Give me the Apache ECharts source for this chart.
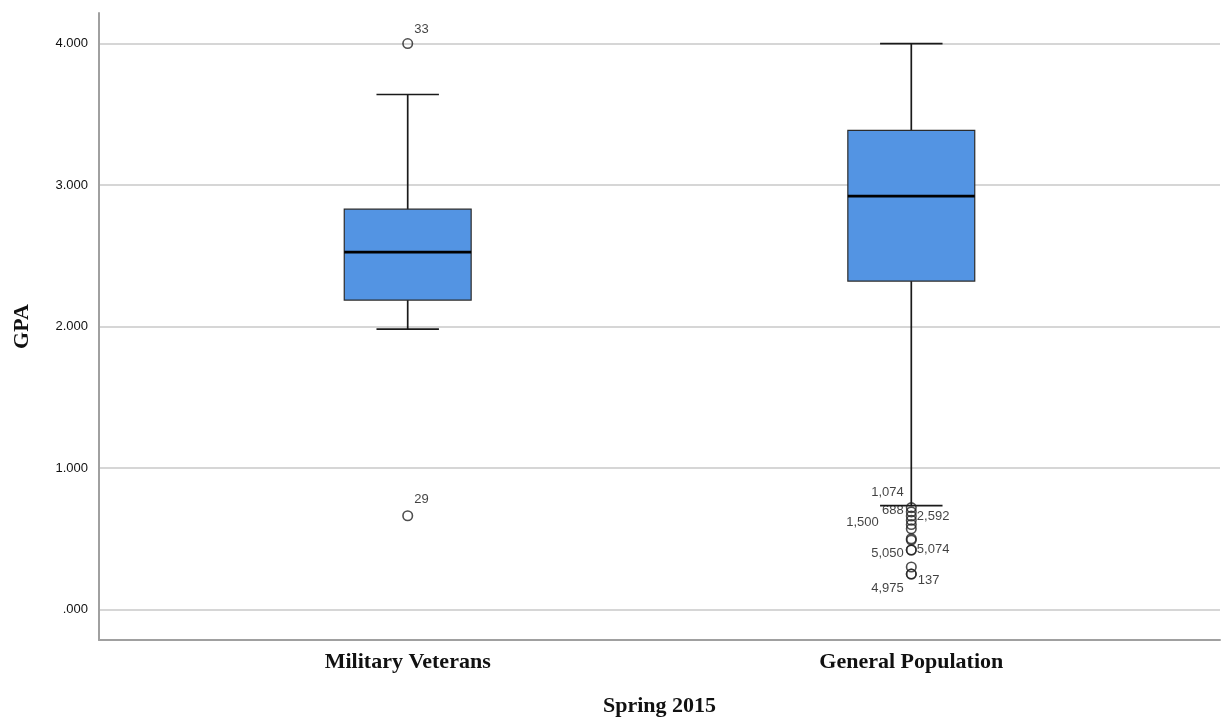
<!DOCTYPE html>
<html>
<head>
<meta charset="utf-8">
<script src="https://cdn.jsdelivr.net/npm/echarts@6/dist/echarts.min.js"></script>
<style>
html,body{margin:0;padding:0;background:#fff;}
#chart{width:1222px;height:722px;}
</style>
</head>
<body>
<div id="chart"></div>
<script>
// ---- Data ----
const categories = ['Military Veterans', 'General Population'];
// [lower whisker, Q1, median, Q3, upper whisker]
const militaryBox = [1.982, 2.187, 2.526, 2.829, 3.640];
const generalBox = [0.734, 2.321, 2.921, 3.386, 4.000];
const militaryOutliers = [4.000, 0.662];
const militaryOutlierIds = ['33', '29'];
const generalOutliers = [0.72, 0.69, 0.66, 0.63, 0.60, 0.57, 0.50, 0.49, 0.42, 0.42, 0.30, 0.25, 0.25];
const generalOutlierIds = ['1,074', '688', '2,592', '1,500', '', '', '', '', '5,074', '5,050', '', '137', '4,975'];
const yTicks = [0, 1, 2, 3, 4];

// ---- Label placement (style only) ----
const labelPlacement = {
  '33':    {position: 'right', distance: 1, offset: [0, -14]},
  '29':    {position: 'right', distance: 1, offset: [0, -16]},
  '1,074': {position: 'left', distance: 2, offset: [0, -15]},
  '688':   {position: 'left', distance: 2, offset: [0, -1]},
  '2,592': {position: 'right', distance: 0, offset: [0, 0]},
  '1,500': {position: 'left', distance: 27, offset: [0, 2]},
  '5,074': {position: 'right', distance: 0, offset: [0, -1]},
  '5,050': {position: 'left', distance: 2, offset: [0, 3]},
  '137':   {position: 'right', distance: 1, offset: [0, 6]},
  '4,975': {position: 'left', distance: 2, offset: [0, 14]}
};

const boxData = [[0].concat(militaryBox), [1].concat(generalBox)];

function outlierItems(catIdx, values, ids) {
  return values.map(function (v, i) {
    const id = ids[i];
    const item = {value: [catIdx, v]};
    if (id) {
      const p = labelPlacement[id];
      item.label = {
        show: true,
        formatter: id,
        position: p.position,
        distance: p.distance,
        offset: p.offset,
        color: '#111',
        fontFamily: 'Liberation Sans, Arial, sans-serif',
        fontSize: 13
      };
    }
    return item;
  });
}

const outlierData = outlierItems(0, militaryOutliers, militaryOutlierIds)
  .concat(outlierItems(1, generalOutliers, generalOutlierIds));

const BOX_HALF = 0.126;
const CAP_HALF = 0.062;

function renderBox(params, api) {
  const x = api.value(0);
  const lo = api.value(1), q1 = api.value(2), med = api.value(3), q3 = api.value(4), hi = api.value(5);
  const pL = api.coord([x - BOX_HALF, q3]);
  const pR = api.coord([x + BOX_HALF, q1]);
  const cL = api.coord([x - CAP_HALF, hi]);
  const cR = api.coord([x + CAP_HALF, hi]);
  const lL = api.coord([x - CAP_HALF, lo]);
  const lR = api.coord([x + CAP_HALF, lo]);
  const cx = api.coord([x, med])[0];
  const pHi = api.coord([x, hi]);
  const pLo = api.coord([x, lo]);
  const mL = api.coord([x - BOX_HALF, med]);
  const mR = api.coord([x + BOX_HALF, med]);
  const lineStyle = {stroke: '#1a1a1a', lineWidth: 1.7, fill: null};
  return {
    type: 'group',
    children: [
      {type: 'line', shape: {x1: cx, y1: pHi[1], x2: cx, y2: pL[1]}, style: lineStyle},
      {type: 'line', shape: {x1: cx, y1: pR[1], x2: cx, y2: pLo[1]}, style: lineStyle},
      {type: 'line', shape: {x1: cL[0], y1: cL[1], x2: cR[0], y2: cR[1]}, style: lineStyle},
      {type: 'line', shape: {x1: lL[0], y1: lL[1], x2: lR[0], y2: lR[1]}, style: lineStyle},
      {type: 'rect', shape: {x: pL[0], y: pL[1], width: pR[0] - pL[0], height: pR[1] - pL[1]},
        style: {fill: '#5394e3', stroke: '#2b2b2b', lineWidth: 1.2}},
      {type: 'line', shape: {x1: mL[0], y1: mL[1], x2: mR[0], y2: mR[1]},
        style: {stroke: '#000', lineWidth: 2.8}}
    ]
  };
}

const serif = 'Liberation Serif, Times New Roman, serif';

const chart = echarts.init(document.getElementById('chart'), null, {renderer: 'canvas'});
chart.setOption({
  animation: false,
  backgroundColor: '#fff',
  grid: {left: 99, right: 2, top: 13, bottom: 80, containLabel: false},
  xAxis: {
    type: 'value',
    min: -0.613,
    max: 1.613,
    name: 'Spring 2015',
    nameLocation: 'middle',
    nameGap: 55,
    nameTextStyle: {fontFamily: serif, fontWeight: 'bold', fontSize: 22, color: '#111'},
    axisLine: {show: true, onZero: false, lineStyle: {color: '#a0a0a0', width: 2}},
    axisTick: {show: false},
    splitLine: {show: false},
    axisLabel: {
      customValues: [0, 1],
      formatter: function (v) { return categories[Math.round(v)]; },
      margin: 11,
      fontFamily: serif,
      fontWeight: 'bold',
      fontSize: 22,
      color: '#111'
    }
  },
  yAxis: {
    type: 'value',
    min: -0.216,
    max: 4.216,
    name: 'GPA',
    nameLocation: 'middle',
    nameGap: 66,
    nameRotate: 90,
    nameTextStyle: {fontFamily: serif, fontWeight: 'bold', fontSize: 22, color: '#111'},
    axisLine: {show: true, onZero: false, lineStyle: {color: '#a0a0a0', width: 2}},
    axisTick: {show: false, customValues: yTicks},
    splitLine: {show: true, lineStyle: {color: '#c8c8c8', width: 1.5}},
    axisLabel: {
      customValues: yTicks,
      formatter: function (v) { const s = v.toFixed(3); return s.startsWith('0') ? s.slice(1) : s; },
      margin: 11,
      fontFamily: 'Liberation Sans, Arial, sans-serif',
      fontSize: 13,
      color: '#111'
    }
  },
  series: [
    {
      type: 'custom',
      renderItem: renderBox,
      data: boxData,
      encode: {x: 0, y: [1, 2, 3, 4, 5]},
      z: 2
    },
    {
      type: 'scatter',
      data: outlierData,
      symbol: 'circle',
      symbolSize: 9.5,
      itemStyle: {color: 'rgba(255,255,255,0)', borderColor: '#222', borderWidth: 1.6},
      z: 3
    }
  ]
});
</script>
</body>
</html>
